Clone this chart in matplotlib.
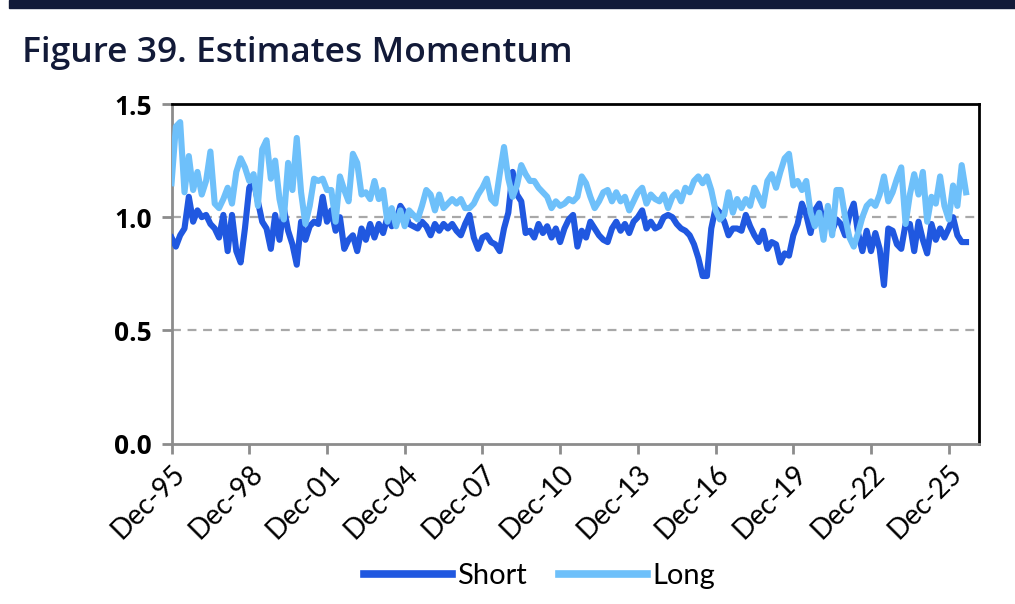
import matplotlib.pyplot as plt
import numpy as np

# two-month steps starting Dec-95
months = np.arange(0, 370, 2)

short = [0.91, 0.87, 0.92, 0.95, 1.09, 0.98, 1.03, 1.00, 1.01, 0.97,
         0.95, 0.91, 1.01, 0.85, 1.01, 0.85, 0.80, 0.95, 1.13, 1.16,
         1.07, 0.98, 0.95, 0.86, 1.01, 0.90, 1.04, 0.94, 0.88, 0.79,
         0.98,
         0.90, 0.96, 0.98, 0.97, 1.09, 0.98, 1.03, 0.94, 1.00, 0.86,
         0.90, 0.92, 0.85, 0.95, 0.90, 0.97, 0.91, 0.97, 0.93, 1.00,
         0.96, 0.98, 1.05, 1.02, 0.97, 0.96, 0.95, 0.98, 0.96, 0.92,
         0.97,
         0.94, 0.97, 0.95, 0.97, 0.94, 0.92, 0.97, 1.01, 0.91, 0.86,
         0.91, 0.92, 0.89, 0.88, 0.85, 0.95, 1.02, 1.20, 1.10, 1.07,
         0.93, 0.94, 0.91, 0.97, 0.93, 0.96, 0.91, 0.95, 0.89, 0.95,
         0.99,
         1.01, 0.87, 0.94, 0.91, 0.98, 0.95, 0.92, 0.90, 0.89, 0.95,
         0.98, 0.94, 0.97, 0.93, 0.98, 1.00, 1.03, 0.95, 0.98, 0.95,
         0.96, 1.00, 1.01, 1.00, 0.97, 0.95, 0.94, 0.92, 0.88, 0.82,
         0.74,
         0.74, 0.95, 1.04, 1.02, 0.98, 0.92, 0.95, 0.95, 0.94, 1.01,
         0.96, 0.92, 0.89, 0.94, 0.86, 0.89, 0.88, 0.80, 0.84, 0.83,
         0.92, 0.97, 1.06, 1.01, 0.93, 1.03, 1.06, 0.97, 1.03, 0.94,
         0.99,
         0.97, 0.92, 1.01, 1.06, 0.93, 0.85, 0.94, 0.85, 0.93, 0.86,
         0.70, 0.95, 0.94, 0.88, 0.86, 0.97, 0.97, 0.85, 0.98, 0.90,
         0.84, 0.97, 0.90, 0.95, 0.91, 0.95, 1.00, 0.92, 0.89, 0.89]

long = [1.15, 1.40, 1.42, 1.11, 1.27, 1.12, 1.20, 1.10, 1.16, 1.29,
        1.06, 1.04, 1.08, 1.13, 1.06, 1.20, 1.26, 1.22, 1.16, 1.19,
        1.05, 1.30, 1.34, 1.17, 1.25, 1.08, 0.99, 1.24, 1.12, 1.35,
        1.11,
        0.97, 1.05, 1.17, 1.16, 1.17, 1.12, 1.12, 0.98, 1.18, 1.12,
        1.07, 1.28, 1.24, 1.10, 1.11, 1.08, 1.16, 1.08, 1.12, 0.98,
        1.04, 0.96, 1.03, 0.96, 1.03, 1.01, 0.99, 1.05, 1.12, 1.10,
        1.03,
        1.10, 1.04, 1.06, 1.08, 1.06, 1.08, 1.04, 1.04, 1.06, 1.10,
        1.13, 1.17, 1.08, 1.06, 1.19, 1.31, 1.17, 1.09, 1.14, 1.23,
        1.19, 1.16, 1.16, 1.13, 1.11, 1.09, 1.04, 1.07, 1.05, 1.06,
        1.08,
        1.07, 1.09, 1.18, 1.15, 1.09, 1.04, 1.07, 1.11, 1.12, 1.07,
        1.11, 1.07, 1.09, 1.03, 1.07, 1.11, 1.13, 1.06, 1.10, 1.08,
        1.07, 1.10, 1.04, 1.09, 1.11, 1.07, 1.13, 1.11, 1.16, 1.18,
        1.15,
        1.18, 1.12, 1.03, 0.99, 1.01, 1.11, 1.02, 1.08, 1.04, 1.08,
        1.05, 1.13, 1.09, 1.05, 1.16, 1.19, 1.13, 1.20, 1.26, 1.28,
        1.14, 1.16, 1.12, 1.16, 1.02, 0.96, 1.02, 0.90, 1.05, 0.92,
        1.12,
        1.12, 1.00, 0.91, 0.87, 0.93, 1.00, 1.05, 1.07, 1.05, 1.10,
        1.18, 1.07, 1.11, 1.17, 1.22, 0.97, 1.10, 1.19, 1.10, 1.20,
        0.98, 1.09, 1.06, 1.18, 1.05, 0.99, 1.14, 1.05, 1.23, 1.11]

tick_months = np.arange(0, 361, 36)
tick_labels = ['Dec-95', 'Dec-98', 'Dec-01', 'Dec-04', 'Dec-07', 'Dec-10',
               'Dec-13', 'Dec-16', 'Dec-19', 'Dec-22', 'Dec-25']

navy = '#121a38'
dark_blue = '#2058e0'
light_blue = '#6ec0fa'
axis_grey = '#8c8c8c'

fig = plt.figure(figsize=(10.15, 6.04), dpi=100)
fig.patches.append(plt.Rectangle((0.009, 0.986), 0.991, 0.014, transform=fig.transFigure,
                                 color=navy, zorder=0))
fig.text(0.022, 0.897, 'Figure 39. Estimates Momentum', fontsize=25.5, fontweight='semibold',
         color=navy, family='Open Sans', va='baseline')

ax = fig.add_axes([0.169, 0.2657, 0.7955, 0.5621])
ax.plot(months, short, color=dark_blue, lw=4.4, label='Short', solid_joinstyle='round', zorder=3)
ax.plot(months, long, color=light_blue, lw=4.4, label='Long', solid_joinstyle='round', zorder=3)

for v in [0.5, 1.0]:
    ax.axhline(v, color='#a8a8a8', lw=1.6, ls=(0, (4, 3)), zorder=1)

ax.set_xlim(0, 374)
ax.set_ylim(0, 1.5)
ax.set_yticks([0, 0.5, 1.0, 1.5])
ax.set_yticklabels(['0.0', '0.5', '1.0', '1.5'], fontsize=19, fontweight='bold', family='Open Sans')
ax.set_xticks(tick_months)
ax.set_xticklabels(tick_labels, rotation=45, ha='right', rotation_mode='anchor',
                   fontsize=20, family='Lato')

for side in ['left', 'bottom']:
    ax.spines[side].set_color(axis_grey)
    ax.spines[side].set_linewidth(2)
for side in ['top', 'right']:
    ax.spines[side].set_color('black')
    ax.spines[side].set_linewidth(2)
ax.tick_params(axis='both', color=axis_grey, width=2, length=7)
ax.tick_params(axis='y', pad=7)
ax.tick_params(axis='x', pad=5)

ax.legend(loc='center', bbox_to_anchor=(0.456, -0.39), ncol=2, frameon=False,
          handlelength=3.0, columnspacing=1.1, handletextpad=0.2,
          prop={'family': 'Lato', 'size': 21})
for line in ax.get_legend().get_lines():
    line.set_linewidth(5.5)

plt.savefig('out.png', dpi=100)
